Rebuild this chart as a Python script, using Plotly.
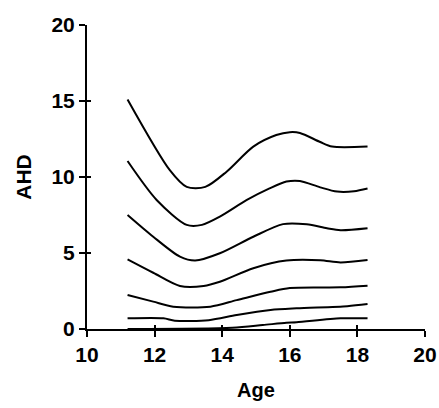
import plotly.graph_objects as go

# Ages (x) and AHD values for each centile curve
age_p1 = [11.2, 12.45, 12.95, 13.5, 14.13, 14.92, 15.6, 16.0, 16.3, 16.9, 17.25, 18.3]
ahd_p1 = [15.1, 10.45, 9.35, 9.35, 10.35, 12.0, 12.76, 12.95, 12.9, 12.3, 12.0, 12.0]

age_p2 = [11.2, 12.06, 12.95, 13.4, 13.93, 14.73, 15.4, 15.9, 16.3, 16.9, 17.4, 17.9, 18.3]
ahd_p2 = [11.05, 8.49, 6.85, 6.85, 7.39, 8.49, 9.25, 9.7, 9.74, 9.32, 9.04, 9.06, 9.24]

age_p3 = [11.2, 11.96, 12.75, 13.2, 13.93, 14.92, 15.8, 16.5, 17.1, 17.5, 18.3]
ahd_p3 = [7.5, 6.07, 4.76, 4.5, 4.98, 6.07, 6.9, 6.89, 6.63, 6.5, 6.63]

age_p4 = [11.2, 11.96, 12.75, 13.45, 13.93, 14.92, 15.9, 16.9, 17.5, 18.3]
ahd_p4 = [4.58, 3.7, 2.83, 2.83, 3.11, 4.0, 4.5, 4.52, 4.38, 4.54]

age_p5 = [11.2, 11.96, 12.55, 13.65, 14.43, 15.43, 16.0, 17.5, 18.3]
ahd_p5 = [2.24, 1.8, 1.47, 1.47, 1.9, 2.45, 2.7, 2.74, 2.85]

age_p6 = [11.2, 12.26, 12.6, 13.6, 14.43, 15.43, 16.2, 17.7, 18.3]
ahd_p6 = [0.7, 0.7, 0.55, 0.58, 0.92, 1.25, 1.36, 1.5, 1.64]

age_p7 = [11.2, 14.3, 15.2, 15.9, 16.2, 17.5, 18.3]
ahd_p7 = [0.0, 0.08, 0.26, 0.41, 0.44, 0.7, 0.7]

x_ticks = [10, 12, 14, 16, 18, 20]
y_ticks = [0, 5, 10, 15, 20]

curves = [(age_p1, ahd_p1), (age_p2, ahd_p2), (age_p3, ahd_p3), (age_p4, ahd_p4),
          (age_p5, ahd_p5), (age_p6, ahd_p6), (age_p7, ahd_p7)]

fig = go.Figure()
for xs, ys in curves:
    fig.add_trace(go.Scatter(x=xs, y=ys, mode="lines",
                             line=dict(color="black", width=2, shape="spline", smoothing=0.8),
                             showlegend=False, hoverinfo="skip", cliponaxis=False))

# invisible trace on overlay axes to make them render
fig.add_trace(go.Scatter(x=[10], y=[0], xaxis="x2", yaxis="y2", mode="markers",
                         marker=dict(opacity=0), showlegend=False, hoverinfo="skip"))

font_family = "Arial, Liberation Sans, sans-serif"
tick_font = dict(size=21, family=font_family, weight="bold")
fig.update_layout(
    width=439, height=408,
    margin=dict(l=87, r=14, t=25, b=79, autoexpand=False),
    paper_bgcolor="white", plot_bgcolor="white",
    font=dict(family=font_family, color="black", size=20),
    xaxis=dict(range=[10, 20], tickvals=x_ticks, showgrid=False, zeroline=False,
               showline=True, linecolor="black", linewidth=2, automargin=False,
               ticks="outside", ticklen=6, tickwidth=2, tickcolor="black",
               tickfont=tick_font,
               title=dict(text="Age", font=dict(size=20, weight="bold"), standoff=18)),
    yaxis=dict(range=[0, 20], tickvals=y_ticks, showgrid=False, zeroline=False,
               showline=True, linecolor="black", linewidth=2, automargin=False,
               ticks="outside", ticklen=6, tickwidth=2, tickcolor="black",
               tickfont=tick_font,
               title=dict(text="AHD", font=dict(size=21, weight="bold"), standoff=14)),
    xaxis2=dict(range=[10, 20], tickvals=x_ticks, overlaying="x", side="bottom",
                showgrid=False, zeroline=False, showline=False, showticklabels=False,
                automargin=False,
                ticks="inside", ticklen=4, tickwidth=2, tickcolor="black"),
    yaxis2=dict(range=[0, 20], tickvals=y_ticks, overlaying="y", side="left",
                showgrid=False, zeroline=False, showline=False, showticklabels=False,
                automargin=False,
                ticks="inside", ticklen=4, tickwidth=2, tickcolor="black"),
)

fig.write_html("out.html", config={"displayModeBar": False},
               post_script="document.body.style.margin='0';")
